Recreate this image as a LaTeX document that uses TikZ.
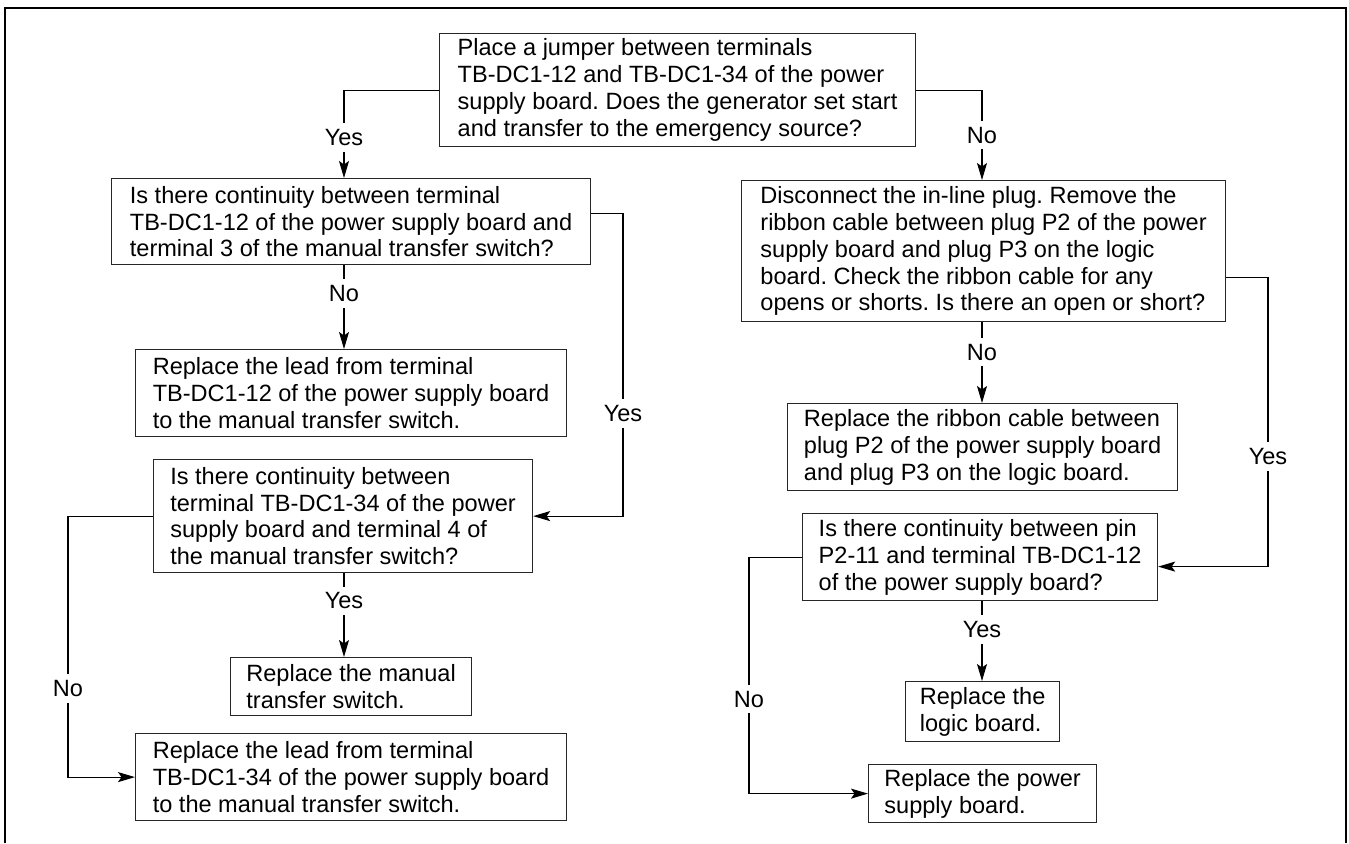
\documentclass[tikz,border=0pt]{standalone}
\usepackage{fontspec}
\setmainfont{Liberation Sans}
\usepackage{tikz}
\usetikzlibrary{arrows.meta}
\frenchspacing

\begin{document}
\begin{tikzpicture}[
    x=0.02cm, y=-0.02cm,
    font=\fontsize{13.4}{15.3}\selectfont,
    box/.style={rectangle, draw=black!85, line width=0.7pt, anchor=north west, align=left, inner xsep=0.2cm, inner ysep=0pt},
    lbl/.style={fill=white, inner xsep=1pt, inner ysep=3.5pt},
    arrow/.style={-{Stealth[length=0.34cm, width=0.2cm, inset=0.07cm]}, line width=0.65pt},
    frame/.style={line width=1.4pt},
]
\useasboundingbox (0,0) rectangle (1349,843);

% === FRAME ===
\draw[frame] (5,843) -- (5,8) -- (1346,8) -- (1346,843);

% === COLUMNS ===
\coordinate (colL) at (344,0);
\coordinate (colR) at (982,0);
\coordinate (jL) at (623,0);
\coordinate (jR) at (1268,0);
\coordinate (xL) at (68,0);
\coordinate (xM) at (749,0);

% === START ===
\node[box, minimum width=9.52cm, minimum height=2.26cm] (q1) at (439,33) {Place a jumper between terminals\\TB-DC1-12 and TB-DC1-34 of the power\\supply board. Does the generator set start\\and transfer to the emergency source?};

% === LEFT BRANCH ===
\node[box, minimum width=9.58cm, minimum height=1.72cm] (q2) at (111,178) {Is there continuity between terminal\\TB-DC1-12 of the power supply board and\\terminal 3 of the manual transfer switch?};
\node[box, minimum width=8.62cm, minimum height=1.74cm] (r1) at (135,349) {Replace the lead from terminal\\TB-DC1-12 of the power supply board\\to the manual transfer switch.};
\node[box, minimum width=7.58cm, minimum height=2.26cm] (q3) at (153,459) {Is there continuity between\\terminal TB-DC1-34 of the power\\supply board and terminal 4 of\\the manual transfer switch?};
\node[box, minimum width=4.82cm, minimum height=1.16cm] (r2) at (230,657) {Replace the manual\\transfer switch.};
\node[box, minimum width=8.62cm, minimum height=1.74cm] (r3) at (135,733) {Replace the lead from terminal\\TB-DC1-34 of the power supply board\\to the manual transfer switch.};

% === RIGHT BRANCH ===
\node[box, minimum width=9.68cm, minimum height=2.82cm] (q4) at (741,180) {Disconnect the in-line plug. Remove the\\ribbon cable between plug P2 of the power\\supply board and plug P3 on the logic\\board. Check the ribbon cable for any\\opens or shorts. Is there an open or short?};
\node[box, minimum width=7.80cm, minimum height=1.74cm] (r4) at (787,403) {Replace the ribbon cable between\\plug P2 of the power supply board\\and plug P3 on the logic board.};
\node[box, minimum width=7.10cm, minimum height=1.74cm] (q5) at (802,513) {Is there continuity between pin\\P2-11 and terminal TB-DC1-12\\of the power supply board?};
\node[box, minimum width=3.08cm, minimum height=1.20cm] (r5) at (905,681) {Replace the\\logic board.};
\node[box, minimum width=4.56cm, minimum height=1.16cm] (r6) at (868,764) {Replace the power\\supply board.};

\coordinate (q2out) at ([yshift=0.16cm]q2.east);
\coordinate (q4out) at ([yshift=-0.53cm]q4.east);
\coordinate (q5in) at ([yshift=-0.19cm]q5.east);

% === ARROWS ===
\draw[arrow] (q1.west) -| node[lbl, pos=0.77] {Yes} (q2.north -| colL);
\draw[arrow] (q1.east) -| node[lbl, pos=0.75] {No} (q4.north -| colR);
\draw[arrow] (q2.south -| colL) -- node[lbl, pos=0.34] {No} (r1.north -| colL);
\draw[arrow] (q2out) -| node[lbl, pos=0.83] {Yes} (q3.east -| jL) -- (q3.east);
\draw[arrow] (q3.south -| colL) -- node[lbl, pos=0.33] {Yes} (r2.north -| colL);
\draw[arrow] (q3.west) -| node[lbl, pos=0.83] {No} (r3.west -| xL) -- (r3.west);
\draw[arrow] (q4.south -| colR) -- node[lbl, pos=0.37] {No} (r4.north -| colR);
\draw[arrow] (q4out) -| node[lbl, pos=0.81] {Yes} (q5in -| jR) -- (q5in);
\draw[arrow] (q5.south -| colR) -- node[lbl, pos=0.35] {Yes} (r5.north -| colR);
\draw[arrow] (q5.west) -| node[lbl, pos=0.8] {No} (r6.west -| xM) -- (r6.west);

\end{tikzpicture}
\end{document}
